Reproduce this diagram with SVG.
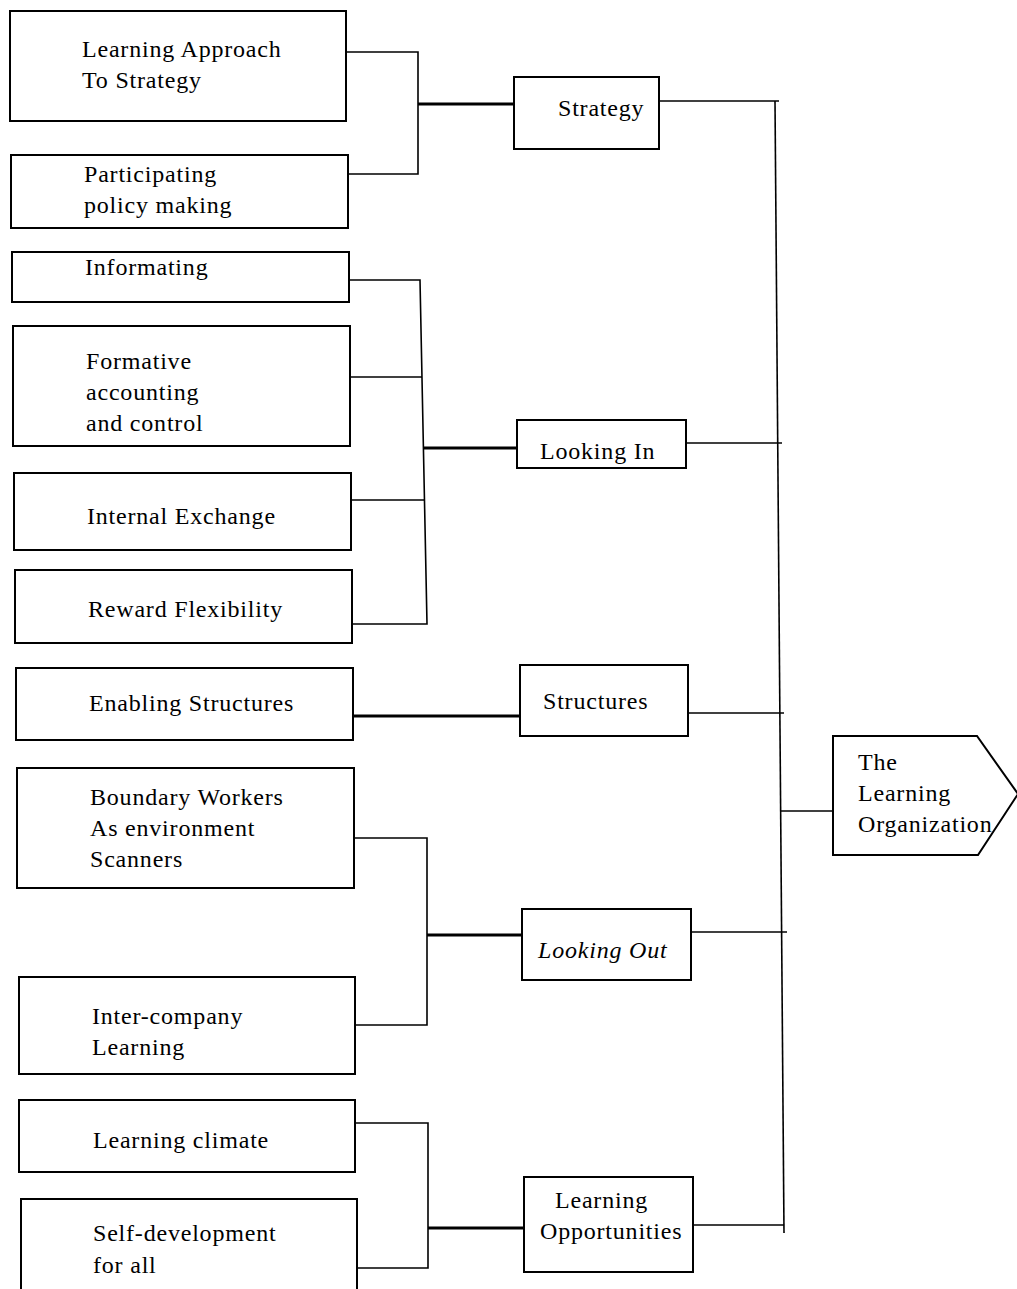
<svg xmlns="http://www.w3.org/2000/svg" width="1017" height="1289" viewBox="0 0 1017 1289">
<style>
.box{fill:#fff;stroke:#000;stroke-width:2}
.t{font-family:'Liberation Serif','Times New Roman','DejaVu Serif',serif;font-size:24px;letter-spacing:0.8px;fill:#000}
.it{font-style:italic}
.c{fill:none;stroke:#000;stroke-width:1.6}
.k{fill:none;stroke:#000;stroke-width:3.2}
</style>
<rect width="1017" height="1289" fill="#fff"/>
<g id="connectors">
<path class="c" d="M346 52 H418 V174 H348"/>
<path class="k" d="M418 104 H514"/>
<path class="c" d="M349 280 H420 L427 624 H352"/>
<path class="c" d="M350 377 H422"/>
<path class="c" d="M351 500 H425"/>
<path class="k" d="M424 448 H517"/>
<path class="k" d="M353 716 H520"/>
<path class="c" d="M354 838 H427 V1025 H355"/>
<path class="k" d="M427 935 H522"/>
<path class="c" d="M355 1123 H428 V1268 H357"/>
<path class="k" d="M428 1228 H524"/>
<path class="c" d="M659 101 H779"/>
<path class="c" d="M775 101 L784 1233"/>
<path class="c" d="M686 443 H782"/>
<path class="c" d="M688 713 H784"/>
<path class="c" d="M691 932 H787"/>
<path class="c" d="M693 1225 H784"/>
<path class="c" d="M781 811 H833"/>
</g>
<g id="n-approach"><rect class="box" x="10" y="11" width="336" height="110"/><text class="t" x="82" y="57">Learning Approach</text><text class="t" x="82" y="88">To Strategy</text></g>
<g id="n-participating"><rect class="box" x="11" y="155" width="337" height="73"/><text class="t" x="84" y="182">Participating</text><text class="t" x="84" y="213">policy making</text></g>
<g id="n-informating"><rect class="box" x="12" y="252" width="337" height="50"/><text class="t" x="85" y="275">Informating</text></g>
<g id="n-formative"><rect class="box" x="13" y="326" width="337" height="120"/><text class="t" x="86" y="369">Formative</text><text class="t" x="86" y="400">accounting</text><text class="t" x="86" y="431">and control</text></g>
<g id="n-internal"><rect class="box" x="14" y="473" width="337" height="77"/><text class="t" x="87" y="524">Internal Exchange</text></g>
<g id="n-reward"><rect class="box" x="15" y="570" width="337" height="73"/><text class="t" x="88" y="617">Reward Flexibility</text></g>
<g id="n-enabling"><rect class="box" x="16" y="668" width="337" height="72"/><text class="t" x="89" y="711">Enabling Structures</text></g>
<g id="n-boundary"><rect class="box" x="17" y="768" width="337" height="120"/><text class="t" x="90" y="805">Boundary Workers</text><text class="t" x="90" y="836">As environment</text><text class="t" x="90" y="867">Scanners</text></g>
<g id="n-intercompany"><rect class="box" x="19" y="977" width="336" height="97"/><text class="t" x="92" y="1024">Inter-company</text><text class="t" x="92" y="1055">Learning</text></g>
<g id="n-climate"><rect class="box" x="19" y="1100" width="336" height="72"/><text class="t" x="93" y="1148">Learning climate</text></g>
<g id="n-selfdev"><rect class="box" x="21" y="1199" width="336" height="100"/><text class="t" x="93" y="1241">Self-development</text><text class="t" x="93" y="1273">for all</text></g>
<g id="n-strategy"><rect class="box" x="514" y="77" width="145" height="72"/><text class="t" x="558" y="116">Strategy</text></g>
<g id="n-lookingin"><rect class="box" x="517" y="420" width="169" height="48"/><text class="t" x="540" y="459">Looking In</text></g>
<g id="n-structures"><rect class="box" x="520" y="665" width="168" height="71"/><text class="t" x="543" y="709">Structures</text></g>
<g id="n-lookingout"><rect class="box" x="522" y="909" width="169" height="71"/><text class="t it" x="538" y="958">Looking Out</text></g>
<g id="n-opportunities"><rect class="box" x="524" y="1177" width="169" height="95"/><text class="t" x="555" y="1208">Learning</text><text class="t" x="540" y="1239">Opportunities</text></g>
<g id="n-organization"><path class="box" d="M833 736 H977 L1018 794 L978 855 H833 Z"/><text class="t" x="858" y="770">The</text><text class="t" x="858" y="801">Learning</text><text class="t" x="858" y="832">Organization</text></g>
</svg>
